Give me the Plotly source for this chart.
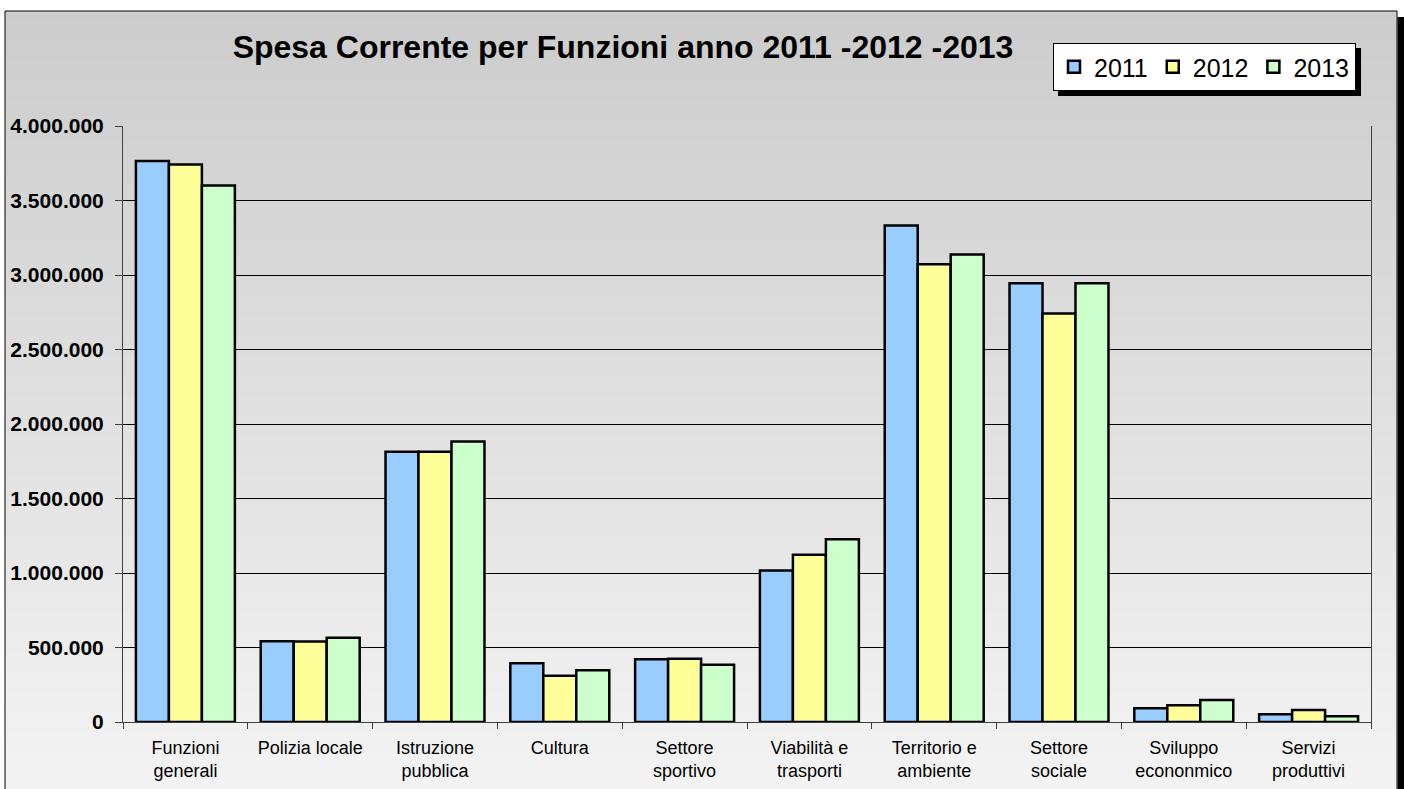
import plotly.graph_objects as go

categories = ["Funzioni<br>generali", "Polizia locale", "Istruzione<br>pubblica", "Cultura",
              "Settore<br>sportivo", "Viabilità e<br>trasporti", "Territorio e<br>ambiente",
              "Settore<br>sociale", "Sviluppo<br>econonmico", "Servizi<br>produttivi"]
series_names = ["2011", "2012", "2013"]
values_2011 = [3765000, 542000, 1814000, 394000, 421000, 1016000, 3333000, 2944000, 92000, 52000]
values_2012 = [3742000, 540000, 1813000, 311000, 425000, 1123000, 3072000, 2741000, 112000, 81000]
values_2013 = [3601000, 566000, 1882000, 347000, 385000, 1226000, 3137000, 2944000, 148000, 38000]
colors = ["#99CCFF", "#FFFF99", "#CCFFCC"]
y_ticks = [0, 500000, 1000000, 1500000, 2000000, 2500000, 3000000, 3500000, 4000000]

W, H = 1404, 789
ML, MR, MT, MB = 123, 33, 126, 67
PW, PH = W - ML - MR, H - MT - MB
FONT = "Arial, Liberation Sans, sans-serif"

fig = go.Figure()
for name, vals, col in zip(series_names, [values_2011, values_2012, values_2013], colors):
    fig.add_trace(go.Bar(name=name, x=categories, y=vals,
                         marker=dict(color=col, line=dict(color="black", width=2.5))))

# pixel -> plot-area ("paper") fractions
def fx(v):
    return (v - ML) / PW

def fy(v):
    return (H - MB - v) / PH

shapes = []
# gradient background of the chart area (styling only)
N = 80
top, bottom = 11, 800
for i in range(N):
    y0 = top + (bottom - top) * i / N
    y1 = top + (bottom - top) * (i + 1) / N + 1.5
    c = int(round(204 + (244 - 204) * (i + 0.5) / N))
    shapes.append(dict(type="rect", xref="paper", yref="paper", layer="below",
                       x0=fx(5), x1=fx(1397), y0=fy(y1), y1=fy(y0),
                       fillcolor=f"rgb({c},{c},{c})", line=dict(width=0)))
# chart area border
shapes.append(dict(type="rect", xref="paper", yref="paper", layer="below",
                   x0=fx(5), x1=fx(1397), y0=fy(800), y1=fy(11),
                   fillcolor="rgba(0,0,0,0)", line=dict(color="black", width=1)))
# chart area shadow (right side)
shapes.append(dict(type="rect", xref="paper", yref="paper", layer="below",
                   x0=fx(1397.5), x1=fx(1406), y0=fy(800), y1=fy(17),
                   fillcolor="black", line=dict(width=0)))
# legend shadow
shapes.append(dict(type="rect", xref="paper", yref="paper", layer="below",
                   x0=fx(1058), x1=fx(1361), y0=fy(96), y1=fy(48),
                   fillcolor="black", line=dict(width=0)))

fig.update_layout(
    width=W, height=H,
    margin=dict(l=ML, r=MR, t=MT, b=MB, autoexpand=False),
    paper_bgcolor="white",
    plot_bgcolor="rgba(0,0,0,0)",
    separators=",.",
    barmode="group",
    bargap=0.207,
    bargroupgap=0,
    font=dict(family=FONT, color="black"),
    title=dict(text="<b>Spesa Corrente per Funzioni anno 2011 -2012 -2013</b>",
               xref="container", yref="container",
               x=623 / W, xanchor="center", y=1 - 47 / H, yanchor="middle",
               font=dict(size=32, family=FONT, color="black")),
    legend=dict(orientation="h", x=fx(1053), y=fy(43), xanchor="left", yanchor="top",
                bgcolor="white", bordercolor="black", borderwidth=1,
                font=dict(size=25, family=FONT, color="black"),
                itemwidth=30, tracegroupgap=0),
    shapes=shapes,
    xaxis=dict(showgrid=False, showline=True, linecolor="#404040", linewidth=1,
               ticks="outside", ticklen=6, tickcolor="#404040", tickson="boundaries",
               ticklabelstandoff=9,
               tickfont=dict(size=18, family=FONT, color="black")),
    yaxis=dict(range=[0, 4000000], tickvals=y_ticks, tickformat=",d",
               showgrid=True, gridcolor="black", gridwidth=1,
               showline=True, linecolor="#404040", linewidth=1, mirror=True,
               ticks="outside", ticklen=7, tickcolor="#404040",
               ticklabelstandoff=7,
               zeroline=False,
               tickfont=dict(size=21, family=FONT, color="black", weight="bold")),
)

fig.write_html("out.html", config={"displayModeBar": False},
               post_script="document.body.style.margin='0';")
